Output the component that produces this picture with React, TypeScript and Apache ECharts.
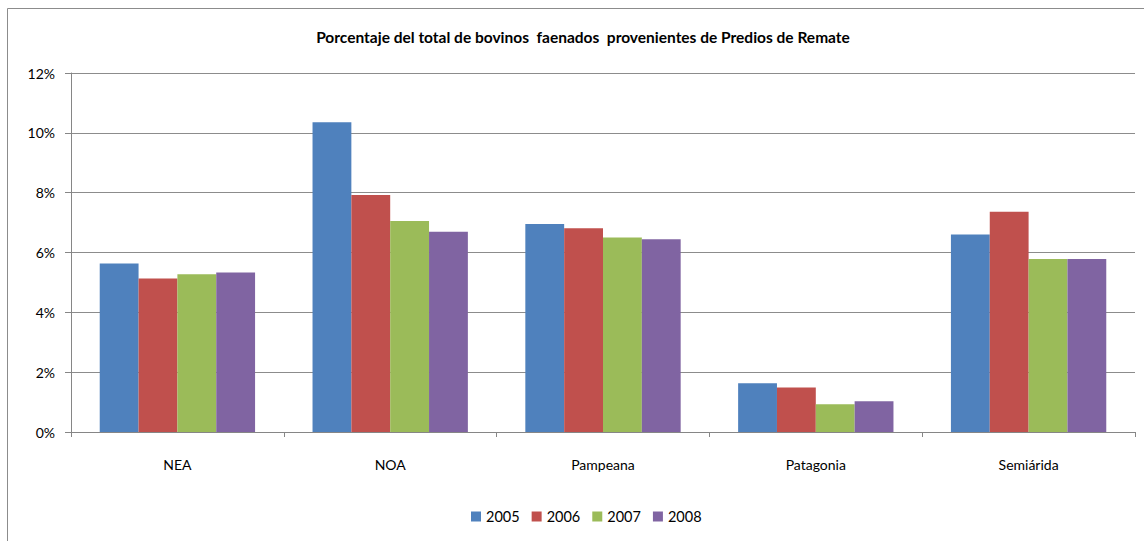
import React, { useEffect, useRef } from "react";
import * as echarts from "echarts";

const TITLE = "Porcentaje del total de bovinos  faenados  provenientes de Predios de Remate";
const categories = ["NEA", "NOA", "Pampeana", "Patagonia", "Semiárida"];
const seriesNames = ["2005", "2006", "2007", "2008"];
const values2005 = [5.63, 10.35, 6.95, 1.63, 6.6];
const values2006 = [5.13, 7.92, 6.81, 1.49, 7.36];
const values2007 = [5.27, 7.05, 6.5, 0.93, 5.78];
const values2008 = [5.33, 6.69, 6.44, 1.03, 5.78];
const yTicks = { min: 0, max: 12, interval: 2 };
const colors = ["#4F81BD", "#C0504D", "#9BBB59", "#8064A2"];

const FONT = "Lato, 'Open Sans', sans-serif";

export default function App() {
  const ref = useRef<HTMLDivElement>(null);
  useEffect(() => {
    if (!ref.current) return;
    const chart = echarts.init(ref.current, undefined, { renderer: "svg" });
    const data = [values2005, values2006, values2007, values2008];
    chart.setOption({
      animation: false,
      color: colors,
      textStyle: { fontFamily: FONT },
      title: {
        text: TITLE,
        left: 578,
        textAlign: "center",
        top: 24,
        textStyle: { fontSize: 15.5, fontWeight: "bold", color: "#000", fontFamily: FONT },
      },
      graphic: [
        { type: "line", shape: { x1: 7.5, y1: 8.5, x2: 1144, y2: 8.5 }, style: { stroke: "#8c8c8c", lineWidth: 1 } },
        { type: "line", shape: { x1: 7.5, y1: 8.5, x2: 7.5, y2: 541 }, style: { stroke: "#8c8c8c", lineWidth: 1 } },
      ],
      legend: {
        data: seriesNames,
        bottom: 12,
        left: 466,
        itemWidth: 10,
        itemHeight: 10,
        itemGap: 12,
        icon: "rect",
        textStyle: { fontSize: 14.5, color: "#000", fontFamily: FONT },
      },
      grid: { left: 71, right: 9, top: 73, bottom: 109, containLabel: false },
      xAxis: {
        type: "category",
        data: categories,
        axisLine: { show: true, lineStyle: { color: "#868686", width: 1 } },
        axisTick: { show: true, interval: 0, alignWithLabel: false, length: 5, lineStyle: { color: "#868686" } },
        axisLabel: { fontSize: 14, color: "#000", margin: 25, fontFamily: FONT },
      },
      yAxis: {
        type: "value",
        min: yTicks.min,
        max: yTicks.max,
        interval: yTicks.interval,
        axisLine: { show: true, lineStyle: { color: "#868686", width: 1 } },
        axisTick: { show: true, length: 6, lineStyle: { color: "#868686" } },
        axisLabel: { formatter: "{value}%", fontSize: 14, color: "#000", margin: 16, fontFamily: FONT },
        splitLine: { show: true, lineStyle: { color: "#8c8c8c", width: 1 } },
      },
      series: seriesNames.map((name, i) => ({
        name,
        type: "bar",
        data: data[i],
        barGap: "0%",
        barCategoryGap: "27%",
        itemStyle: { color: colors[i] },
      })),
    });
    return () => chart.dispose();
  }, []);
  return (
    <div
      ref={ref}
      style={{ position: "fixed", left: 0, top: 0, width: 1144, height: 541, background: "#fff" }}
    />
  );
}
